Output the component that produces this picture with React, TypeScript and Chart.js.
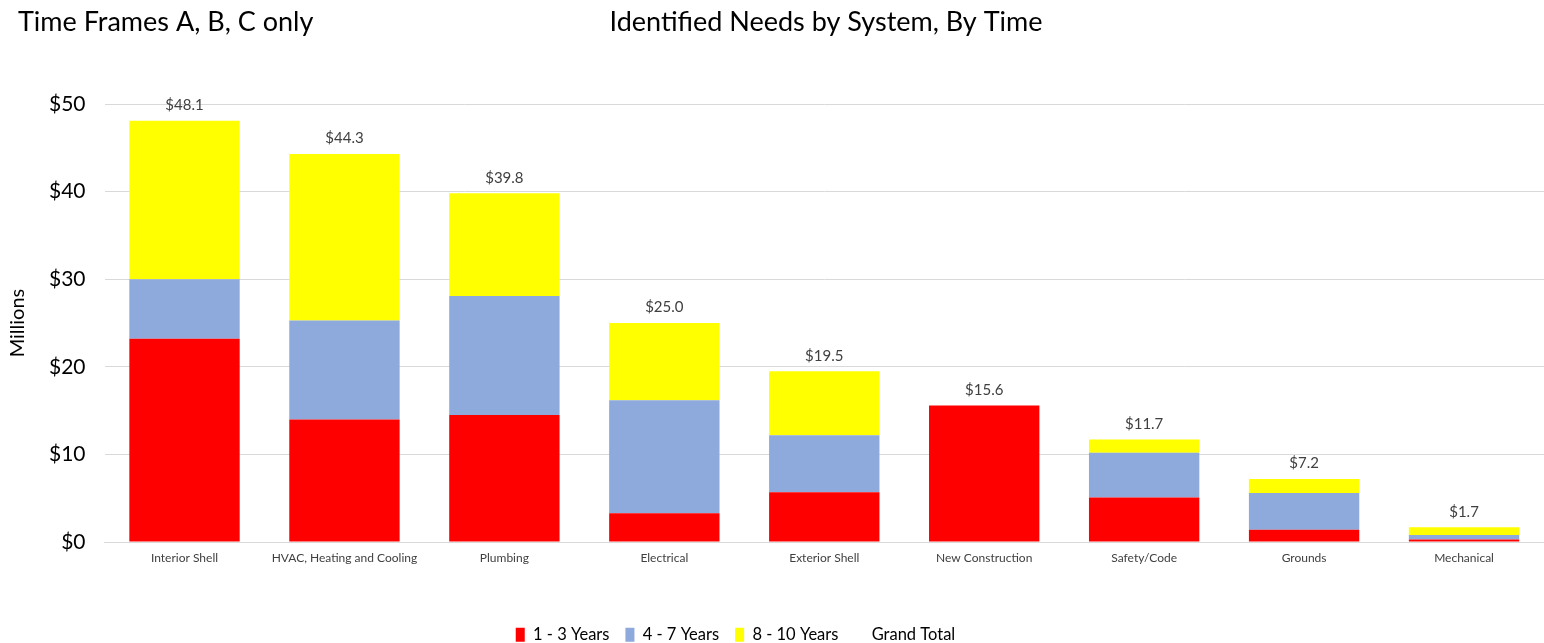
import React, { useEffect, useRef } from "react";
import { Chart, registerables } from "chart.js";

Chart.register(...registerables);

const categories = [
  "Interior Shell",
  "HVAC, Heating and Cooling",
  "Plumbing",
  "Electrical",
  "Exterior Shell",
  "New Construction",
  "Safety/Code",
  "Grounds",
  "Mechanical",
];
const years1to3 = [23.2, 14.0, 14.5, 3.3, 5.7, 15.6, 5.1, 1.4, 0.3];
const years4to7 = [6.8, 11.3, 13.6, 12.9, 6.5, 0, 5.1, 4.2, 0.5];
const years8to10 = [18.1, 19.0, 11.7, 8.8, 7.3, 0, 1.5, 1.6, 0.9];
const grandTotal = [48.1, 44.3, 39.8, 25.0, 19.5, 15.6, 11.7, 7.2, 1.7];
const yTicks = [0, 10, 20, 30, 40, 50];

const FONT = "Lato, 'Open Sans', sans-serif";
const TEXT = "#404040";

const titlePlugin = {
  id: "titles",
  afterLayout(chart: any) {
    if (chart.legend) {
      chart.legend.left -= 96;
    }
  },
  afterDraw(chart: any) {
    const ctx = chart.ctx;
    ctx.save();
    ctx.fillStyle = "#000";
    ctx.textBaseline = "middle";
    ctx.font = `27px ${FONT}`;
    ctx.textAlign = "left";
    ctx.fillText("Time Frames A, B, C only", 18, 22);
    ctx.textAlign = "center";
    ctx.fillText("Identified Needs by System, By Time", 826, 22);
    ctx.restore();
  },
};

const totalLabels = {
  id: "totalLabels",
  afterDatasetsDraw(chart: any) {
    const ctx = chart.ctx;
    const meta = chart.getDatasetMeta(3);
    ctx.save();
    ctx.fillStyle = TEXT;
    ctx.font = `15px ${FONT}`;
    ctx.textAlign = "center";
    ctx.textBaseline = "bottom";
    meta.data.forEach((pt: any, i: number) => {
      ctx.fillText("$" + grandTotal[i].toFixed(1), pt.x, pt.y - 8);
    });
    ctx.restore();
  },
};

export default function App() {
  const ref = useRef<HTMLCanvasElement>(null);
  useEffect(() => {
    if (!ref.current) return;
    const chart = new Chart(ref.current, {
      data: {
        labels: categories,
        datasets: [
          { type: "bar", label: "1 - 3 Years", data: years1to3, backgroundColor: "#FF0000", stack: "s" },
          { type: "bar", label: "4 - 7 Years", data: years4to7, backgroundColor: "#8EA9DB", stack: "s" },
          { type: "bar", label: "8 - 10 Years", data: years8to10, backgroundColor: "#FFFF00", stack: "s" },
          {
            type: "line",
            label: "Grand Total",
            data: grandTotal,
            borderColor: "rgba(0,0,0,0)",
            backgroundColor: "rgba(0,0,0,0)",
            showLine: false,
            pointRadius: 0,
            stack: "total",
          },
        ],
      } as any,
      options: {
        animation: false,
        responsive: false,
        maintainAspectRatio: false,
        layout: { padding: { top: 104, right: -17, left: 6, bottom: -10 } },
        datasets: { bar: { barPercentage: 0.69, categoryPercentage: 1 } },
        plugins: {
          tooltip: { enabled: false },
          title: { display: false },
          legend: {
            position: "bottom",
            labels: {
              font: { family: FONT, size: 16.5 },
              color: "#000",
              boxWidth: 9,
              boxHeight: 14,
              padding: 16,
            },
          },
        },
        scales: {
          x: {
            stacked: true,
            grid: { display: false },
            border: { color: "#d9d9d9" },
            afterFit: (axis: any) => {
              axis.height += 44;
            },
            ticks: { font: { family: FONT, size: 12 }, color: TEXT, maxRotation: 0, autoSkip: false, padding: 1 },
          },
          y: {
            stacked: true,
            min: 0,
            max: 50,
            afterBuildTicks: (axis: any) => {
              axis.ticks = yTicks.map((v) => ({ value: v }));
            },
            grid: { color: "#d9d9d9", drawTicks: false },
            border: { display: false },
            ticks: {
              font: { family: FONT, size: 21 },
              color: "#000",
              padding: 19,
              callback: (v: any) => "$" + v,
            },
            title: {
              display: true,
              text: "Millions",
              font: { family: FONT, size: 20 },
              color: "#000",
              padding: { top: 0, bottom: 0 },
            },
          },
        },
      } as any,
      plugins: [titlePlugin, totalLabels],
    });
    return () => chart.destroy();
  }, []);
  return (
    <div style={{ position: "fixed", left: 0, top: 0, width: 1544, height: 643, background: "#fff" }}>
      <canvas ref={ref} width={1544} height={643} style={{ width: 1544, height: 643 }} />
    </div>
  );
}
